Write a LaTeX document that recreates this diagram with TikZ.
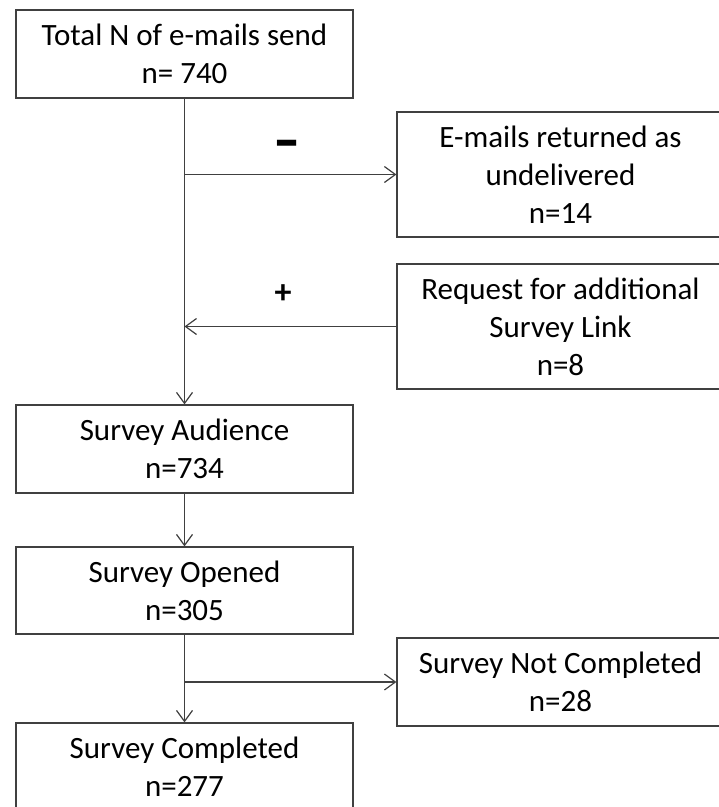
\documentclass[tikz,border=0pt]{standalone}
\usepackage{fontspec}
\setmainfont{Carlito}
\usetikzlibrary{arrows.meta}
\tikzset{
  box/.style={draw=black!75,line width=1.2pt,align=center,inner sep=0pt,font=\fontsize{31}{38}\selectfont},
  flow/.style={draw=black!75,line width=1.2pt,-{Straight Barb[length=11pt,width=16pt,line width=1.2pt]}},
  sign/.style={font=\fontsize{34}{34}\selectfont\bfseries}
}
\begin{document}
\begin{tikzpicture}[x=1pt,y=-1pt]
\useasboundingbox (0,0) rectangle (719,807);
%main column
\node[box,minimum width=337pt,minimum height=88pt] (total) at (184.5,54) {Total N of e-mails send\\n= 740};
\node[box,minimum width=337pt,minimum height=88pt] (audience) at (184.5,449) {Survey Audience\\n=734};
\node[box,minimum width=337pt,minimum height=87pt] (opened) at (184.5,590.5) {Survey Opened\\n=305};
\node[box,minimum width=337pt,minimum height=88pt] (completed) at (184.5,767) {Survey Completed\\n=277};
%side boxes (cut at the right edge)
\node[box,minimum width=327pt,minimum height=125pt] (returned) at (560.5,174.5) {E-mails returned as\\undelivered\\n=14};
\node[box,minimum width=327pt,minimum height=125pt] (request) at (560.5,326.5) {Request for additional\\Survey Link\\n=8};
\node[box,minimum width=327pt,minimum height=88pt] (notcompl) at (560.5,682) {Survey Not Completed\\n=28};
%arrows
\draw[flow] (total) -- (audience);
\draw[flow] (total.south |- returned.west) -- (returned.west);
\draw[flow] (request.west) -- (total.south |- request.west);
\node[sign] (minus) at (287,151) {\scalebox{1.6}[2]{--}};
\node[sign] (plus) at (283,294) {+};
\draw[flow] (audience) -- (opened);
\draw[flow] (opened) -- (completed);
\draw[flow] (opened.south |- notcompl.west) -- (notcompl.west);
\end{tikzpicture}
\end{document}
